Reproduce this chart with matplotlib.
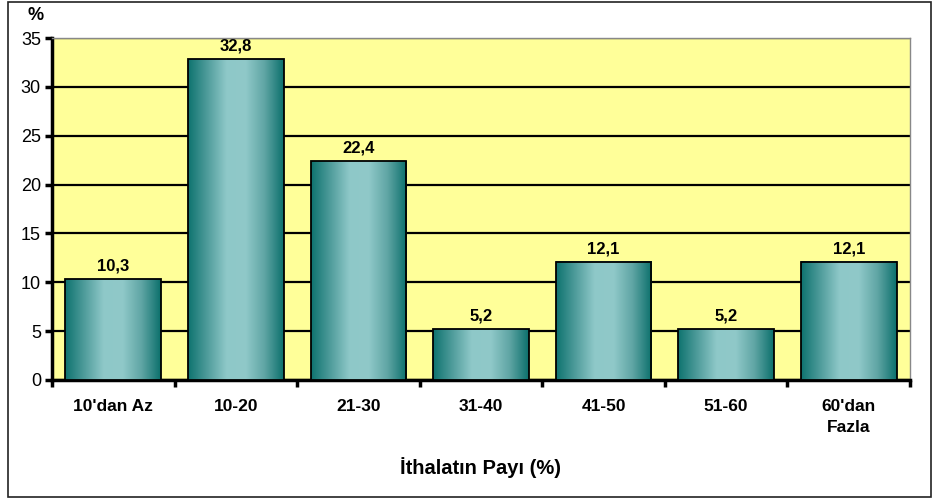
import numpy as np
import matplotlib.pyplot as plt
from matplotlib.colors import LinearSegmentedColormap
from matplotlib.patches import Rectangle

plt.rcParams['font.family'] = ['Liberation Sans', 'DejaVu Sans']

# share of imports groups and percentage of firms
categories = ["10'dan Az", "10-20", "21-30", "31-40", "41-50", "51-60", "60'dan\nFazla"]
values = [10.3, 32.8, 22.4, 5.2, 12.1, 5.2, 12.1]
value_labels = ["10,3", "32,8", "22,4", "5,2", "12,1", "5,2", "12,1"]
yticks = [0, 5, 10, 15, 20, 25, 30, 35]

fig = plt.figure(figsize=(9.39, 4.99), dpi=100)
# outer chart frame
fig.patches.append(Rectangle((8 / 939, 0.004), 923 / 939, 0.992, transform=fig.transFigure,
                             fill=False, edgecolor='#222222', lw=1.2))

ax = fig.add_axes([52 / 939, 1 - 380 / 499, 858 / 939, 342 / 499])
ax.set_facecolor('#ffff99')

x = np.arange(len(categories))
bars = ax.bar(x, values, width=0.78, facecolor='none', edgecolor='black', lw=1.3, zorder=4)

# horizontal teal gradient inside each bar
teal = LinearSegmentedColormap.from_list('teal', ['#0e736f', '#4f9c9b', '#8ec8c8', '#90c9c9', '#5fa5a4', '#0c706c'])
grad = np.linspace(0, 1, 256).reshape(1, -1)
for b in bars:
    x0, w, h = b.get_x(), b.get_width(), b.get_height()
    ax.imshow(grad, cmap=teal, aspect='auto', extent=(x0, x0 + w, 0, h), zorder=3, interpolation='bilinear')

for b, lab in zip(bars, value_labels):
    ax.annotate(lab, (b.get_x() + b.get_width() / 2, b.get_height()), xytext=(0, 4),
                textcoords='offset points', ha='center', va='bottom',
                fontsize=12, fontweight='bold', zorder=5)

ax.set_xlim(-0.5, len(categories) - 0.5)
ax.set_ylim(0, 35)
ax.set_yticks(yticks)
ax.yaxis.grid(True, color='black', lw=1.6, zorder=1)
ax.set_axisbelow(True)
ax.tick_params(axis='y', labelsize=13, length=5, width=2.5, direction='out', pad=3)

ax.set_xticks(x)
ax.set_xticklabels(categories, fontsize=12.5, fontweight='bold', linespacing=1.45)
ax.set_xticks(np.arange(len(categories) + 1) - 0.5, minor=True)
ax.tick_params(axis='x', which='major', length=0, pad=14)
ax.tick_params(axis='x', which='minor', length=5, width=2.5, direction='out')

for s in ['left', 'bottom']:
    ax.spines[s].set_linewidth(2.5)
for s in ['top', 'right']:
    ax.spines[s].set_color('#888888')
    ax.spines[s].set_linewidth(1)

ax.set_xlabel('İthalatın Payı (%)', fontsize=14.5, fontweight='bold', labelpad=16)
fig.text(36 / 939, 1 - 16 / 499, '%', fontsize=13, fontweight='bold', ha='center', va='center')

fig.savefig('out.png', dpi=100)
